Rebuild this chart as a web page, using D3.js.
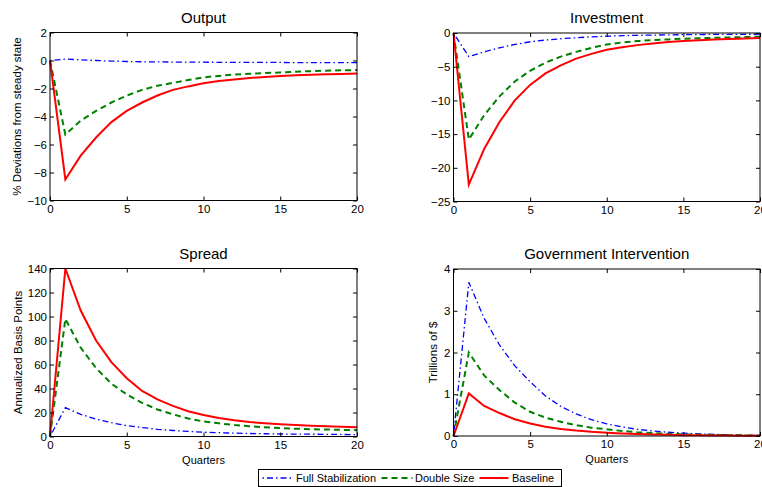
<!DOCTYPE html>
<html>
<head>
<meta charset="utf-8">
<script src="https://cdn.jsdelivr.net/npm/d3@7"></script>
<style>
  body { margin: 0; background: #fff; }
  svg { display: block; font-family: "Liberation Sans", Arial, sans-serif; }
</style>
</head>
<body>
<svg id="chart" width="762" height="487"></svg>
<script>
const quarters = d3.range(0, 21);

const seriesNames = ['Full Stabilization', 'Double Size', 'Baseline'];

// Output, % deviations from steady state
const outputFull = [0, 0.1, 0.05, 0, -0.04, -0.07, -0.09, -0.1, -0.11, -0.12, -0.12, -0.13, -0.13, -0.14, -0.14, -0.14, -0.15, -0.15, -0.15, -0.15, -0.15];
const outputDouble = [0, -5.3, -4.3, -3.6, -3.0, -2.5, -2.1, -1.8, -1.6, -1.4, -1.2, -1.1, -1.0, -0.95, -0.9, -0.85, -0.8, -0.76, -0.73, -0.7, -0.68];
const outputBase = [0, -8.5, -6.8, -5.5, -4.4, -3.6, -3.0, -2.5, -2.1, -1.85, -1.63, -1.47, -1.35, -1.25, -1.17, -1.11, -1.06, -1.02, -0.99, -0.96, -0.93];

// Investment
const investFull = [0, -3.5, -2.8, -2.2, -1.7, -1.3, -1.05, -0.85, -0.7, -0.57, -0.47, -0.4, -0.35, -0.31, -0.28, -0.25, -0.23, -0.21, -0.2, -0.19, -0.18];
const investDouble = [0, -15.8, -12.2, -9.4, -7.2, -5.6, -4.4, -3.5, -2.8, -2.2, -1.7, -1.4, -1.2, -1.05, -0.95, -0.85, -0.78, -0.72, -0.66, -0.6, -0.55];
const investBase = [0, -22.5, -17.2, -13.2, -10.0, -7.7, -6.0, -4.8, -3.8, -3.1, -2.5, -2.1, -1.8, -1.55, -1.35, -1.2, -1.07, -0.97, -0.88, -0.81, -0.75];

// Spread, annualized basis points
const spreadFull = [0, 24, 18.5, 14.5, 11.5, 9, 7.5, 6, 5, 4.2, 3.6, 3.2, 2.8, 2.5, 2.3, 2.1, 2, 1.9, 1.8, 1.7, 1.6];
const spreadDouble = [0, 98, 74, 57, 44, 35, 28, 22.5, 18.5, 15, 12.5, 11, 9.5, 8.5, 7.7, 7, 6.5, 6.1, 5.8, 5.5, 5.3];
const spreadBase = [0, 140, 105, 80, 62, 48.5, 38, 31, 25.5, 21, 18, 15.5, 13.5, 12, 11, 10.2, 9.6, 9, 8.5, 8.1, 7.8];

// Government intervention, trillions of $
const govFull = [0, 3.68, 2.82, 2.18, 1.68, 1.3, 0.96, 0.71, 0.53, 0.39, 0.29, 0.22, 0.16, 0.12, 0.09, 0.07, 0.05, 0.04, 0.03, 0.02, 0.015];
const govDouble = [0, 2.0, 1.45, 1.1, 0.8, 0.58, 0.44, 0.34, 0.26, 0.2, 0.16, 0.12, 0.09, 0.07, 0.055, 0.04, 0.03, 0.025, 0.02, 0.015, 0.01];
const govBase = [0, 1.02, 0.72, 0.55, 0.4, 0.3, 0.22, 0.17, 0.13, 0.1, 0.08, 0.06, 0.045, 0.035, 0.03, 0.02, 0.015, 0.01, 0.01, 0.005, 0.005];

const xTicks = [0, 5, 10, 15, 20];

const styles = [
  {color: '#0000ff', width: 1.3, dash: '1.5,3,6,3'},
  {color: '#008000', width: 2, dash: '6,4'},
  {color: '#ff0000', width: 2, dash: null}
];

const svg = d3.select('#chart');
const fmt = d3.format('d');

function drawPanel(p) {
  const g = svg.append('g').attr('transform', 'translate(' + p.left + ',' + p.top + ')');
  const w = p.width, h = p.height;

  const x = d3.scaleLinear().domain([0, 20]).range([0, w]);
  const y = d3.scaleLinear().domain(p.domain).range([h, 0]);

  // lines
  const line = d3.line().x((d, i) => x(quarters[i])).y(d => y(d));
  p.series.forEach((s, i) => {
    g.append('path')
      .datum(s)
      .attr('d', line)
      .attr('fill', 'none')
      .attr('stroke', styles[i].color)
      .attr('stroke-width', styles[i].width)
      .attr('stroke-dasharray', styles[i].dash)
      .attr('stroke-linejoin', 'miter');
  });

  // box
  g.append('rect')
    .attr('width', w).attr('height', h)
    .attr('fill', 'none').attr('stroke', '#000').attr('stroke-width', 1);

  // inward ticks on all four sides
  const tl = 4;
  g.append('g').attr('transform', 'translate(0,' + h + ')')
    .call(d3.axisBottom(x).tickValues(xTicks).tickFormat(fmt).tickSizeInner(-tl).tickSizeOuter(0).tickPadding(4))
    .call(a => a.select('.domain').remove());
  g.append('g')
    .call(d3.axisTop(x).tickValues(xTicks).tickSizeInner(-tl).tickSizeOuter(0).tickFormat(''))
    .call(a => a.select('.domain').remove());
  g.append('g')
    .call(d3.axisLeft(y).tickValues(p.yTicks).tickFormat(fmt).tickSizeInner(-tl).tickSizeOuter(0).tickPadding(3))
    .call(a => a.select('.domain').remove());
  g.append('g').attr('transform', 'translate(' + w + ',0)')
    .call(d3.axisRight(y).tickValues(p.yTicks).tickSizeInner(-tl).tickSizeOuter(0).tickFormat(''))
    .call(a => a.select('.domain').remove());

  g.selectAll('.tick text').attr('font-size', 11.5).attr('font-family', '"Liberation Sans", Arial, sans-serif').attr('fill', '#000');
  g.selectAll('.tick line').attr('stroke', '#000');

  // title
  g.append('text')
    .attr('x', w / 2).attr('y', -10)
    .attr('text-anchor', 'middle')
    .attr('font-size', 15)
    .text(p.title);

  if (p.ylabel) {
    g.append('text')
      .attr('transform', 'translate(' + p.ylabelX + ',' + (h / 2) + ') rotate(-90)')
      .attr('text-anchor', 'middle')
      .attr('font-size', 11.5)
      .text(p.ylabel);
  }
  if (p.xlabel) {
    g.append('text')
      .attr('x', w / 2).attr('y', h + 27)
      .attr('text-anchor', 'middle')
      .attr('font-size', 11)
      .text(p.xlabel);
  }
}

drawPanel({left: 50, top: 32.5, width: 307, height: 168, domain: [-10, 2],
  yTicks: [-10, -8, -6, -4, -2, 0, 2], title: 'Output',
  ylabel: '% Deviations from steady state', ylabelX: -29,
  series: [outputFull, outputDouble, outputBase]});

drawPanel({left: 453.5, top: 33, width: 306.5, height: 168.5, domain: [-25, 0],
  yTicks: [-25, -20, -15, -10, -5, 0], title: 'Investment',
  series: [investFull, investDouble, investBase]});

drawPanel({left: 50, top: 268.5, width: 307, height: 168, domain: [0, 140],
  yTicks: [0, 20, 40, 60, 80, 100, 120, 140], title: 'Spread',
  ylabel: 'Annualized Basis Points', ylabelX: -28, xlabel: 'Quarters',
  series: [spreadFull, spreadDouble, spreadBase]});

drawPanel({left: 453.5, top: 269, width: 306.5, height: 167, domain: [0, 4],
  yTicks: [0, 1, 2, 3, 4], title: 'Government Intervention',
  ylabel: 'Trillions of $', ylabelX: -16.5, xlabel: 'Quarters',
  series: [govFull, govDouble, govBase]});

// legend
const legend = svg.append('g').attr('transform', 'translate(258.5,469.5)');
legend.append('rect')
  .attr('width', 303).attr('height', 17)
  .attr('fill', '#fff').attr('stroke', '#000').attr('stroke-width', 1);
const legendPos = [
  {x1: 4, x2: 34, tx: 37.5},
  {x1: 123, x2: 154, tx: 156.5},
  {x1: 221, x2: 250, tx: 253.5}
];
seriesNames.forEach((name, i) => {
  legend.append('line')
    .attr('x1', legendPos[i].x1).attr('x2', legendPos[i].x2)
    .attr('y1', 8.5).attr('y2', 8.5)
    .attr('stroke', styles[i].color)
    .attr('stroke-width', styles[i].width)
    .attr('stroke-dasharray', styles[i].dash);
  legend.append('text')
    .attr('x', legendPos[i].tx).attr('y', 12.5)
    .attr('font-size', 11)
    .text(name);
});
</script>
</body>
</html>
